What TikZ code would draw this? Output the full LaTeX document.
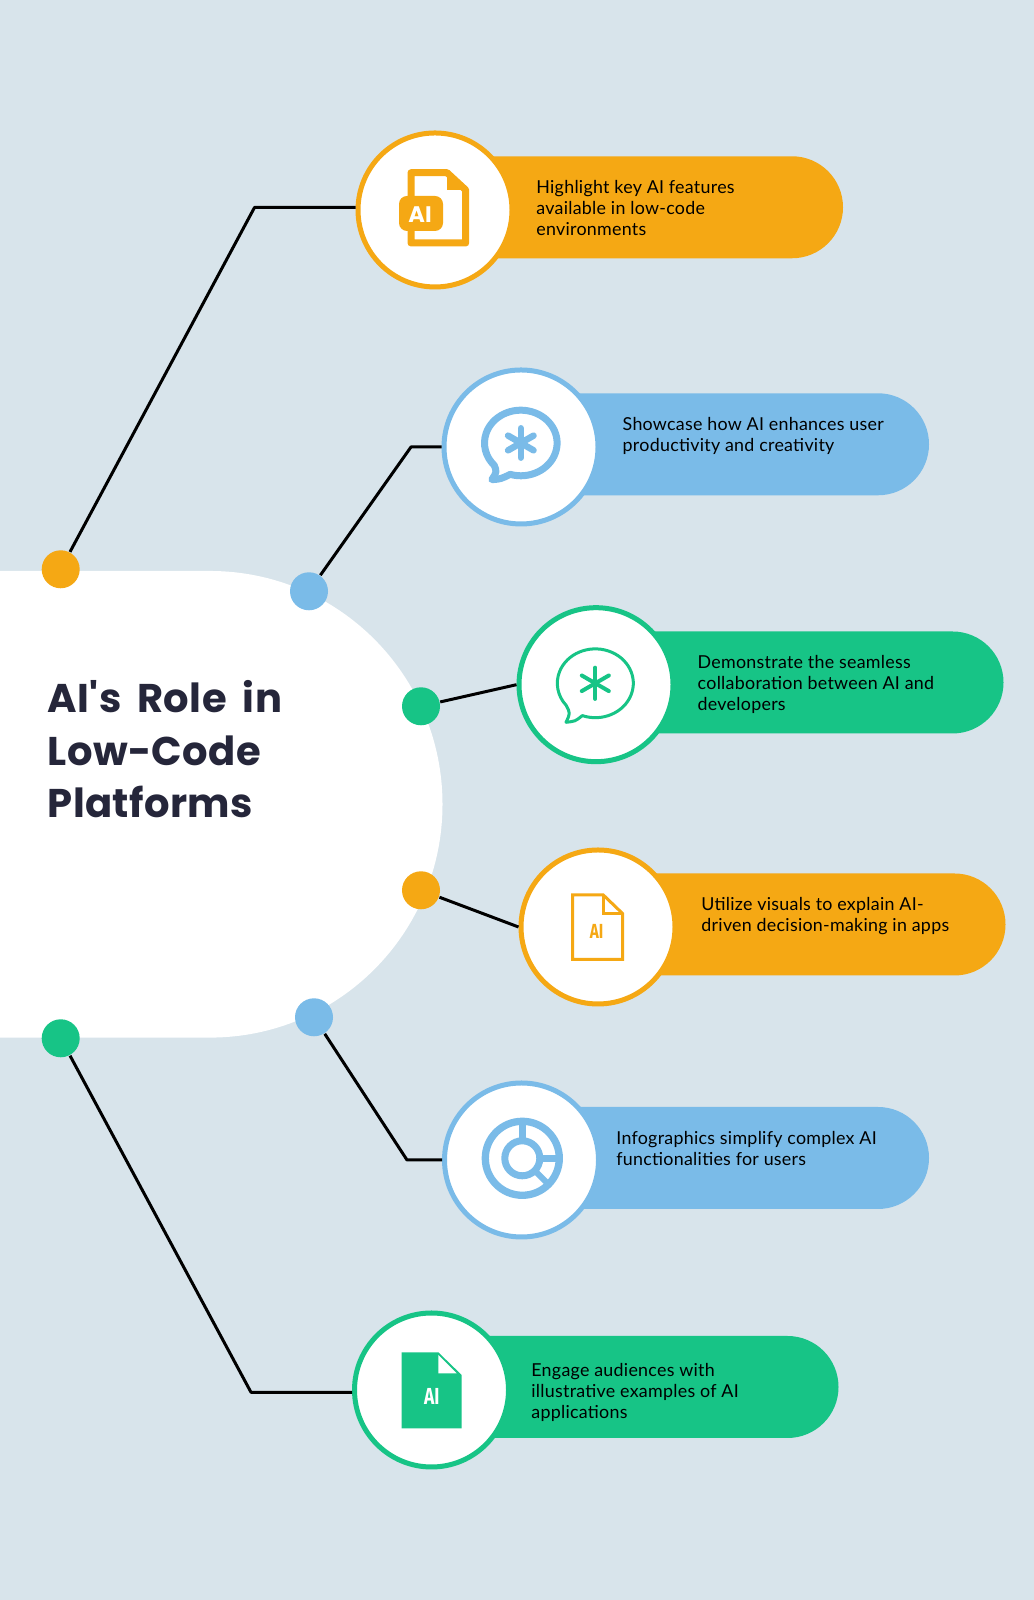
\documentclass[tikz,border=0pt]{standalone}
\usepackage{fontspec}
\setmainfont[LetterSpace=1.5]{Lato}
\newfontfamily\titlefont[LetterSpace=1,WordSpace=1.8]{Poppins}
\newfontfamily\iconfont[FakeStretch=0.75]{Fira Sans}
\usetikzlibrary{arrows.meta,calc,positioning}
\definecolor{pagebg}{HTML}{D8E4EB}
\definecolor{amber}{HTML}{F5A814}
\definecolor{skyblue}{HTML}{7ABBE8}
\definecolor{mint}{HTML}{17C486}
\definecolor{inkdark}{HTML}{25263A}

\begin{document}
\begin{tikzpicture}[x=1cm,y=1cm,
  pill/.style={rectangle,rounded corners=0.51cm,minimum width=4.1cm,minimum height=1.02cm,inner sep=0pt},
  badge/.style={circle,draw,fill=white,line width=0.05cm,minimum size=1.54cm,inner sep=0pt},
  dot/.style={circle,minimum size=0.38cm,inner sep=0pt},
  link/.style={line width=0.03cm,black},
  body/.style={anchor=north west,align=left,inner sep=0pt,text=black,font=\fontsize{5.08}{5.97}\selectfont}]
  \fill[pagebg] (0,0) rectangle (10.34,16);
  \fill[white] (0,10.29) -- (2.10,10.29) arc[start angle=90,end angle=-90,x radius=2.325,y radius=2.333] -- (0,5.624) -- cycle;
  \node[inkdark,anchor=north west,align=left,inner sep=0pt,font=\titlefont\bfseries\fontsize{11.4}{14.94}\selectfont] (title) at (0.47,9.20) {AI's Role in\\Low-Code\\Platforms};

  % dots on the white shape
  \node[dot,fill=amber] (dota) at (0.607,10.307) {};
  \node[dot,fill=skyblue] (dotb) at (3.09,10.087) {};
  \node[dot,fill=mint] (dotc) at (4.21,8.937) {};
  \node[dot,fill=amber] (dotd) at (4.21,7.097) {};
  \node[dot,fill=skyblue] (dote) at (3.14,5.827) {};
  \node[dot,fill=mint] (dotf) at (0.607,5.617) {};

  % pills and their circles
  \node[pill,fill=amber] (pilla) at (6.38,13.927) {};
  \node[pill,fill=skyblue] (pillb) at (7.24,11.557) {};
  \node[pill,fill=mint] (pillc) at (7.985,9.175) {};
  \node[pill,fill=amber] (pilld) at (8.005,6.755) {};
  \node[pill,fill=skyblue] (pille) at (7.24,4.42) {};
  \node[pill,fill=mint] (pillf) at (6.335,2.13) {};
  \node[badge,draw=amber] (circlea) at (4.35,13.90) {};
  \node[badge,draw=skyblue] (circleb) at (5.21,11.53) {};
  \node[badge,draw=mint] (circlec) at (5.96,9.153) {};
  \node[badge,draw=amber] (circled) at (5.98,6.73) {};
  \node[badge,draw=skyblue] (circlee) at (5.215,4.40) {};
  \node[badge,draw=mint] (circlef) at (4.315,2.10) {};

  \node[body] (texta) at (5.357,14.2) {Highlight key AI features\\available in low-code\\environments};
  \node[body] (textb) at (6.22,11.83) {Showcase how AI enhances user\\productivity and creativity};
  \node[body] (textc) at (6.97,9.45) {Demonstrate the seamless\\collaboration between AI and\\developers};
  \node[body] (textd) at (7.007,7.03) {Utilize visuals to explain AI-\\driven decision-making in apps};
  \node[body] (texte) at (6.157,4.69) {Infographics simplify complex AI\\functionalities for users};
  \node[body] (textf) at (5.307,2.37) {Engage audiences with\\illustrative examples of AI\\applications};

  % connectors
  \coordinate (elbowa) at (2.545,13.925);
  \coordinate (elbowb) at (4.11,11.53);
  \coordinate (elbowe) at (4.07,4.40);
  \coordinate (elbowf) at (2.51,2.077);
  \draw[link,line join=round] (dota) -- (elbowa) -- (elbowa -| circlea.west);
  \draw[link,line join=round] (dotb) -- (elbowb) -- (circleb.west);
  \draw[link] (dotc) -- (circlec.west);
  \draw[link] (dotd) -- (circled.west);
  \draw[link,line join=round] (dote) -- (elbowe) -- (circlee.west);
  \draw[link,line join=round] (dotf) -- (elbowf) -- (elbowf -| circlef.west);

  % icon a: outlined file with badge
  \begin{scope}[shift={($(circlea)+(-0.02,0)$)},amber]
    \draw[line width=0.07cm,line join=round] (-0.22,0.373) -- (0.14,0.373) -- (0.327,0.20) -- (0.327,-0.33) -- (-0.22,-0.33) -- cycle;
    \fill (0.14,0.373) -- (0.327,0.20) -- (0.14,0.20) -- cycle;
    \fill[rounded corners=0.08cm] (-0.34,0.14) rectangle (0.10,-0.21);
    \node[white,font=\titlefont\bfseries\fontsize{6.4}{7}\selectfont] (iconaname) at (-0.13,-0.043) {AI};
  \end{scope}

  % icon b: thick speech bubble
  \begin{scope}[shift={($(circleb)+(-0.002,0.04)$)},skyblue]
    \draw[line width=0.07cm,line join=round] (253:0.363 and 0.328) arc[start angle=253,end angle=583,x radius=0.363,y radius=0.328]
      .. controls (-0.24,-0.29) .. (-0.29,-0.367) .. controls (-0.2,-0.36) .. cycle;
    \foreach \ang in {90,30,150}
      \draw[line width=0.065cm,line cap=round] (\ang:0.147) -- (\ang+180:0.147);
  \end{scope}

  % icon c: thin speech bubble
  \begin{scope}[shift={($(circlec)+(-0.007,0.014)$)},mint]
    \draw[line width=0.03cm,line join=round] (250:0.38 and 0.344) arc[start angle=250,end angle=580,x radius=0.38,y radius=0.344]
      .. controls (-0.25,-0.30) .. (-0.293,-0.39) .. controls (-0.2,-0.38) .. cycle;
    \foreach \ang in {90,30,150}
      \draw[line width=0.04cm,line cap=round] (\ang:0.156) -- (\ang+180:0.156);
  \end{scope}

  % icon d: outlined page
  \begin{scope}[shift={($(circled)+(-0.023,0)$)},amber]
    \draw[line width=0.03cm,line join=miter] (-0.232,0.32) -- (0.076,0.32) -- (0.268,0.135) -- (0.268,-0.325) -- (-0.232,-0.325) -- cycle;
    \draw[line width=0.03cm] (0.076,0.32) -- (0.076,0.135) -- (0.268,0.135);
    \node[font=\iconfont\bfseries\fontsize{5.8}{6}\selectfont] (icondname) at (0.01,-0.043) {AI};
  \end{scope}

  % icon e: ring chart
  \begin{scope}[shift={($(circlee)+(0.008,0.017)$)},skyblue]
    \draw[line width=0.073cm] (0,0) circle[radius=0.37];
    \draw[line width=0.07cm] (0,0) circle[radius=0.175];
    \draw[line width=0.07cm] (0,0.175) -- (0,0.37);
    \draw[line width=0.065cm] (0.175,0) -- (0.37,0);
    \draw[line width=0.06cm] (-45:0.175) -- (-45:0.37);
  \end{scope}

  % icon f: solid page
  \begin{scope}[shift={($(circlef)+(-0.025,0)$)},mint]
    \fill (-0.273,0.377) -- (0.093,0.377) -- (0.327,0.15) -- (0.327,-0.383) -- (-0.273,-0.383) -- cycle;
    \fill[white] (0.093,0.35) -- (0.277,0.167) -- (0.093,0.167) -- cycle;
    \node[white,font=\iconfont\bfseries\fontsize{6.6}{7}\selectfont] (iconfname) at (0.027,-0.067) {AI};
  \end{scope}
\end{tikzpicture}
\end{document}
